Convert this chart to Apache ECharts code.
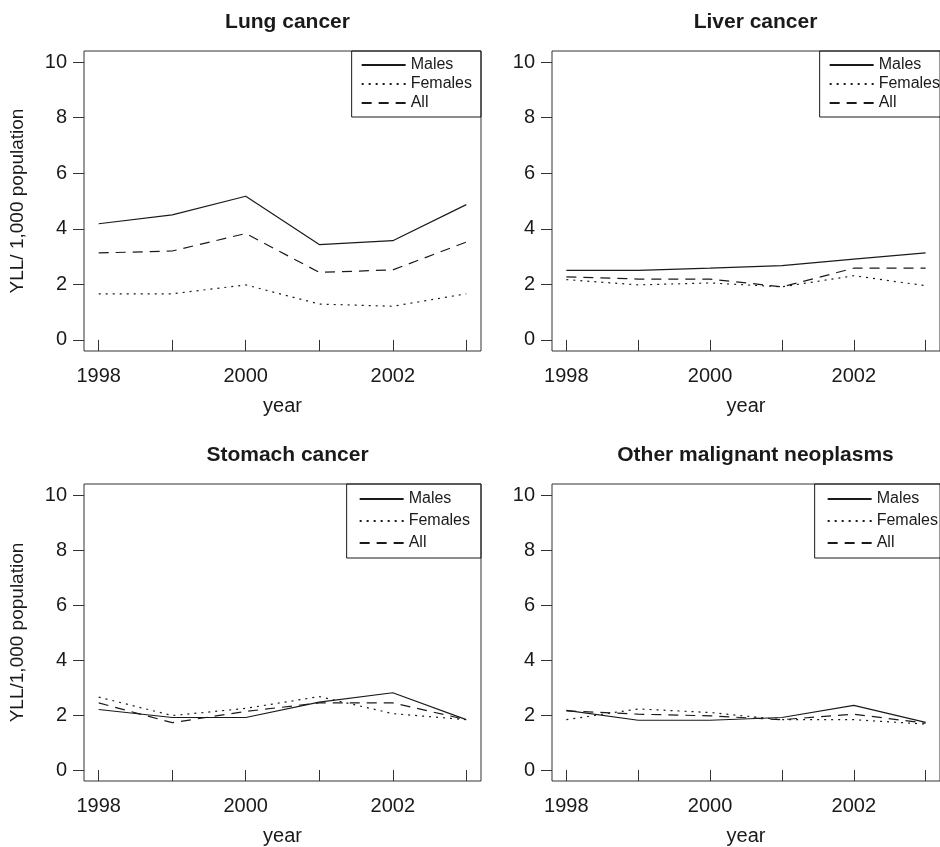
<!DOCTYPE html>
<html>
<head>
<meta charset="utf-8">
<script src="https://cdn.jsdelivr.net/npm/echarts@6/dist/echarts.min.js"></script>
<style>
  html, body { margin: 0; padding: 0; background: #fff; }
  #main { width: 940px; height: 847px; }
</style>
</head>
<body>
<div id="main"></div>
<script>
// years on the x axis
const years = [1998, 1999, 2000, 2001, 2002, 2003];
const xTickYears = [1998, 1999, 2000, 2001, 2002, 2003];
const xLabelYears = [1998, 2000, 2002];
const yTicks = [0, 2, 4, 6, 8, 10];

const panelTitles = ["Lung cancer", "Liver cancer", "Stomach cancer", "Other malignant neoplasms"];
const yNames = ["YLL/ 1,000 population", "", "YLL/1,000 population", ""];
const seriesNames = ["Males", "Females", "All"];

// YLL per 1,000 population
const lungMales = [4.18, 4.50, 5.17, 3.43, 3.57, 4.87];
const lungFemales = [1.66, 1.66, 1.98, 1.29, 1.21, 1.66];
const lungAll = [3.13, 3.20, 3.83, 2.43, 2.52, 3.52];

const liverMales = [2.50, 2.50, 2.58, 2.67, 2.91, 3.13];
const liverFemales = [2.17, 1.98, 2.05, 1.91, 2.31, 1.95];
const liverAll = [2.27, 2.19, 2.19, 1.91, 2.58, 2.58];

const stomachMales = [2.20, 1.91, 1.91, 2.47, 2.81, 1.83];
const stomachFemales = [2.65, 1.98, 2.24, 2.67, 2.05, 1.83];
const stomachAll = [2.44, 1.72, 2.13, 2.44, 2.44, 1.83];

const otherMales = [2.17, 1.81, 1.81, 1.91, 2.35, 1.73];
const otherFemales = [1.83, 2.22, 2.09, 1.83, 1.83, 1.67];
const otherAll = [2.15, 2.03, 1.97, 1.83, 2.03, 1.70];

const panelData = [
  [lungMales, lungFemales, lungAll],
  [liverMales, liverFemales, liverAll],
  [stomachMales, stomachFemales, stomachAll],
  [otherMales, otherFemales, otherAll]
];

const font = "'Liberation Sans', Arial, Helvetica, sans-serif";
const ink = "#1a1a1a";
const lineTypes = ["solid", [2, 5], [10, 7]];

// panel boxes (px); the right column runs a little past the canvas, as in the original
const boxes = [
  { left: 84, top: 51 },
  { left: 552, top: 51 },
  { left: 84, top: 484 },
  { left: 552, top: 484 }
];
const boxW = 397, boxH = 300;
const W = 940;

let grids = [], xAxes = [], yAxes = [], titles = [], legends = [], series = [];

boxes.forEach((b, p) => {
  grids.push({
    left: b.left, top: b.top, width: boxW, height: boxH,
    show: true, borderColor: "#333", borderWidth: 1, backgroundColor: "transparent"
  });
  xAxes.push({
    gridIndex: p, type: "value", min: 1997.8, max: 2003.2,
    name: "year", nameLocation: "middle", nameGap: 45,
    nameTextStyle: { fontFamily: font, fontSize: 20, color: ink },
    axisLine: { show: false },
    axisTick: { show: true, length: 11, customValues: xTickYears, lineStyle: { color: "#333" } },
    axisLabel: {
      customValues: xLabelYears, fontFamily: font, fontSize: 20, color: ink, margin: 15,
      formatter: (v) => String(v)
    },
    splitLine: { show: false }
  });
  yAxes.push({
    gridIndex: p, type: "value", min: -0.4, max: 10.4,
    name: yNames[p], nameLocation: "middle", nameGap: 57, nameRotate: 90,
    nameTextStyle: { fontFamily: font, fontSize: 19, color: ink },
    axisLine: { show: false },
    axisTick: { show: true, length: 11, customValues: yTicks, lineStyle: { color: "#333" } },
    axisLabel: { customValues: yTicks, fontFamily: font, fontSize: 20, color: ink, margin: 17 },
    splitLine: { show: false }
  });
  titles.push({
    text: panelTitles[p],
    left: b.left + boxW / 2, textAlign: "center",
    top: b.top - 44,
    textStyle: { fontFamily: font, fontSize: 21, fontWeight: "bold", color: ink }
  });
  const bottomRow = p >= 2;
  legends.push({
    data: seriesNames,
    orient: "vertical",
    right: W - (b.left + boxW),
    top: b.top,
    itemWidth: 44,
    itemHeight: 12,
    itemGap: bottomRow ? 6 : 3,
    padding: bottomRow ? [7, 11, 7, 12] : [6, 9, 6, 9],
    borderColor: ink, borderWidth: 1,
    selectedMode: false,
    itemStyle: { opacity: 0 },
    lineStyle: { opacity: 1 },
    textStyle: { fontFamily: font, fontSize: 16, color: ink }
  });
  seriesNames.forEach((name, s) => {
    series.push({
      name: name, type: "line",
      xAxisIndex: p, yAxisIndex: p,
      data: years.map((yr, i) => [yr, panelData[p][s][i]]),
      symbol: "none",
      lineStyle: { color: ink, width: 1.2, type: lineTypes[s] },
      itemStyle: { color: ink },
      emphasis: { disabled: true },
      animation: false
    });
  });
});

const chart = echarts.init(document.getElementById("main"));
chart.setOption({
  backgroundColor: "#fff",
  animation: false,
  title: titles,
  legend: legends,
  grid: grids,
  xAxis: xAxes,
  yAxis: yAxes,
  series: series
});
</script>
</body>
</html>
